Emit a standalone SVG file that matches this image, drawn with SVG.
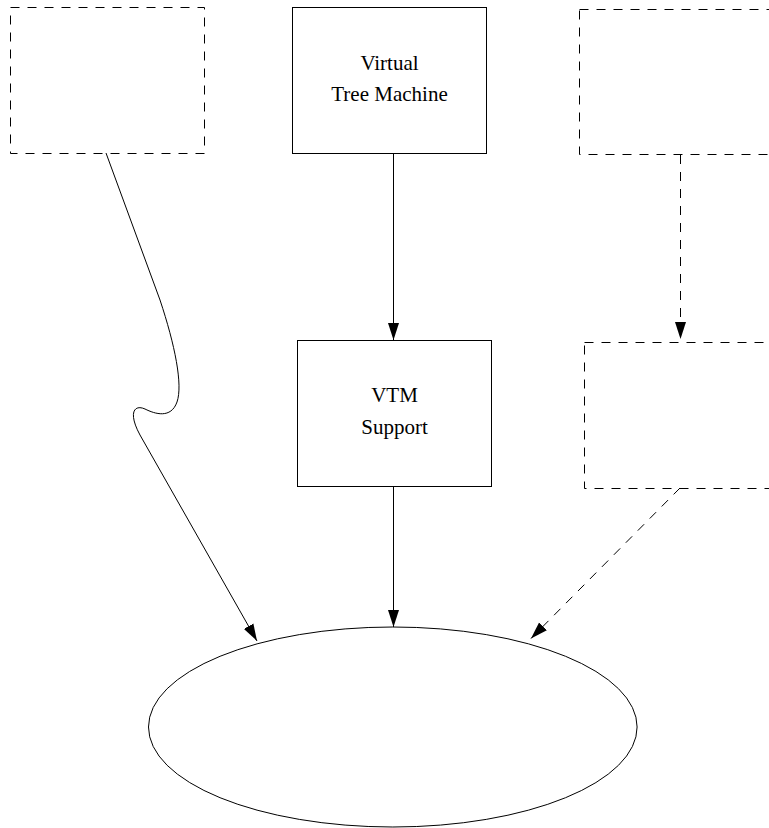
<svg xmlns="http://www.w3.org/2000/svg" width="769" height="828" viewBox="0 0 769 828">
<style>
.box{fill:#fff;stroke:#000;stroke-width:1}
.dash{stroke-dasharray:9,8}
.edge{fill:none;stroke:#000;stroke-width:1}
.lbl{font-family:"Liberation Serif","Times New Roman",serif;font-size:21px;fill:#000;text-anchor:middle}
</style>
<defs>
<marker id="arr" markerUnits="userSpaceOnUse" markerWidth="18" markerHeight="12" refX="17" refY="6" orient="auto" viewBox="0 0 18 12">
<path d="M0,0.5 L17,6 L0,11.5 Z" fill="#000" stroke="none"/>
</marker>
</defs>
<rect width="769" height="828" fill="#fff"/>
<g id="nodes">
<g id="n-left-top"><rect class="box dash" x="10.5" y="7.5" width="194" height="146"/></g>
<g id="n-vtm"><rect class="box" x="292.5" y="7.5" width="194" height="146"/>
<text class="lbl" x="389.5" y="70">Virtual</text>
<text class="lbl" x="389.5" y="101">Tree Machine</text></g>
<g id="n-right-top"><rect class="box dash" x="579.5" y="9.5" width="200" height="145"/></g>
<g id="n-vtm-support"><rect class="box" x="297.5" y="340.5" width="194" height="146"/>
<text class="lbl" x="394.5" y="402">VTM</text>
<text class="lbl" x="394.5" y="434">Support</text></g>
<g id="n-right-mid"><rect class="box dash" x="584.5" y="342.5" width="200" height="146"/></g>
<g id="n-ellipse"><ellipse class="box" cx="392.8" cy="727" rx="244.3" ry="100"/></g>
</g>
<g id="connectors">
<path class="edge" d="M106,153 L160,300 C175,345 183,385 177,402 C171,419 155,414 145,409 C134,404 128,413 140,435 L257,641" marker-end="url(#arr)"/>
<path class="edge" d="M393.5,154 L393.5,340" marker-end="url(#arr)"/>
<path class="edge" d="M393.5,487 L393.5,627" marker-end="url(#arr)"/>
<path class="edge dash" d="M680.5,155 L680.5,339" marker-end="url(#arr)"/>
<path class="edge dash" d="M680,488 L531,638.5" marker-end="url(#arr)"/>
</g>
</svg>
